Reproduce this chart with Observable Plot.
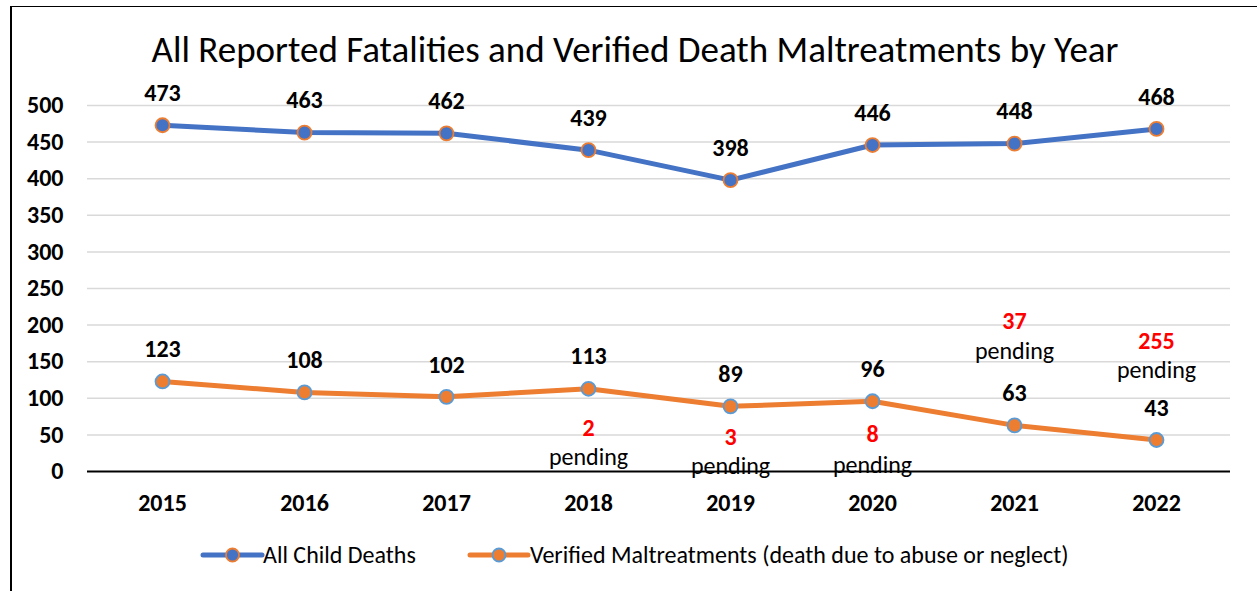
<!DOCTYPE html>
<html><head><meta charset="utf-8">
<script src="https://cdn.jsdelivr.net/npm/d3@7"></script>
<script src="https://cdn.jsdelivr.net/npm/@observablehq/plot@0.6"></script>
<style>
html,body{margin:0;padding:0;background:#fff;}
body{width:1257px;height:591px;position:relative;overflow:hidden;font-family:Carlito,Lato,"Open Sans",sans-serif;}
#frame{position:absolute;left:10px;top:6px;width:1260px;height:600px;border-left:2px solid #000;border-top:1.5px solid #000;}
#title{position:absolute;left:0;width:1270px;top:28px;text-align:center;font-size:37px;line-height:44px;color:#000;}
#chart{position:absolute;left:0;top:75px;}
#legend{position:absolute;left:0;top:530px;}
</style></head><body>
<div id="frame"></div>
<div id="title">All Reported Fatalities and Verified Death Maltreatments by Year</div>
<div id="chart"></div>
<div id="legend"></div>
<script>
const years = ["2015","2016","2017","2018","2019","2020","2021","2022"];
const allDeaths = [473,463,462,439,398,446,448,468];
const verified = [123,108,102,113,89,96,63,43];
const pendingYears = ["2018","2019","2020","2021","2022"];
const pendingCounts = [2,3,8,37,255];
const yTicks = [0,50,100,150,200,250,300,350,400,450,500];
const seriesNames = ["All Child Deaths","Verified Maltreatments (death due to abuse or neglect)"];

const BLUE = "#4472C4", ORANGE = "#ED7D31", LIGHTBLUE = "#5B9BD5";
const FONT = "Carlito,Lato,'Open Sans',sans-serif";
const FS = 24;

const rowsA = years.map((y,i)=>({year:y, value:allDeaths[i]}));
const rowsB = years.map((y,i)=>({year:y, value:verified[i]}));
const pend = pendingYears.map((y,i)=>({year:y, count:pendingCounts[i], value:verified[years.indexOf(y)]}));

// label offsets (layout, pixels relative to the point)
const pendOffsets = {"2018":[40,69],"2019":[31,60],"2020":[33,64],"2021":[-104,-74],"2022":[-99,-70]};
const pendMarks = pend.flatMap(d => [
  Plot.text([d], {x:"year", y:"value", text:d=>String(d.count), dy:pendOffsets[d.year][0], fill:"#FF0000", fontWeight:"bold", fontSize:FS}),
  Plot.text([d], {x:"year", y:"value", text:()=>"pending", dy:pendOffsets[d.year][1], fill:"#000", fontSize:FS})
]);

const chart = Plot.plot({
  width:1257, height:445,
  marginLeft:87, marginRight:27, marginTop:30, marginBottom:49,
  style:{fontFamily:FONT, background:"transparent", overflow:"visible", color:"#000"},
  x:{type:"point", domain:years, padding:0.5},
  y:{domain:[0,500]},
  marks:[
    Plot.ruleY(yTicks.filter(t=>t>0), {stroke:"#d9d9d9", strokeWidth:1.5}),
    Plot.ruleY([0], {stroke:"#000", strokeWidth:2}),
    Plot.axisY({ticks:yTicks, tickSize:0, tickPadding:24, fontSize:FS, fontWeight:"bold", label:null}),
    Plot.axisX({tickSize:0, tickPadding:22, fontSize:FS, fontWeight:"bold", label:null}),
    Plot.line(rowsA, {x:"year", y:"value", stroke:BLUE, strokeWidth:5}),
    Plot.line(rowsB, {x:"year", y:"value", stroke:ORANGE, strokeWidth:5}),
    Plot.dot(rowsA, {x:"year", y:"value", r:7, fill:BLUE, stroke:ORANGE, strokeWidth:1.8}),
    Plot.dot(rowsB, {x:"year", y:"value", r:7, fill:ORANGE, stroke:LIGHTBLUE, strokeWidth:1.8}),
    Plot.text(rowsA, {x:"year", y:"value", text:d=>String(d.value), dy:-32, fontWeight:"bold", fontSize:FS, fill:"#000"}),
    Plot.text(rowsB, {x:"year", y:"value", text:d=>String(d.value), dy:-32, fontWeight:"bold", fontSize:FS, fill:"#000"}),
    ...pendMarks
  ]
});
document.getElementById("chart").append(chart);

// legend
const legendItems = [
  {name:seriesNames[0], line:BLUE, fill:BLUE, stroke:ORANGE, x0:203, x1:262, tx:263},
  {name:seriesNames[1], line:ORANGE, fill:ORANGE, stroke:LIGHTBLUE, x0:470, x1:528, tx:530}
];
const lsvg = d3.create("svg").attr("width",1257).attr("height",50);
legendItems.forEach(it=>{
  const g = lsvg.append("g");
  g.append("line").attr("x1",it.x0).attr("x2",it.x1).attr("y1",25).attr("y2",25)
    .attr("stroke",it.line).attr("stroke-width",5).attr("stroke-linecap","round");
  g.append("circle").attr("cx",(it.x0+it.x1)/2).attr("cy",25).attr("r",6.5)
    .attr("fill",it.fill).attr("stroke",it.stroke).attr("stroke-width",1.8);
  g.append("text").attr("x",it.tx).attr("y",25).attr("dy","0.35em")
    .attr("font-family",FONT).attr("font-size",FS).attr("fill","#000").text(it.name);
});
document.getElementById("legend").append(lsvg.node());
</script>
</body></html>
